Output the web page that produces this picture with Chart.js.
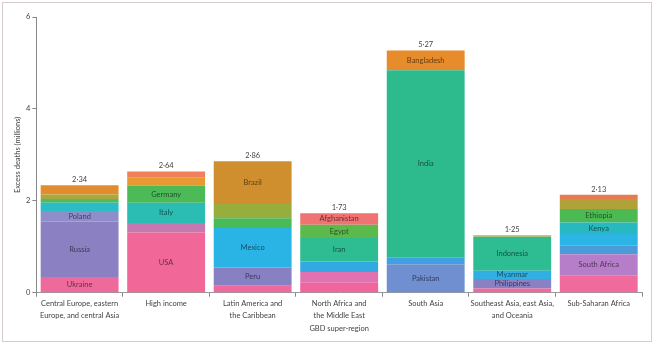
<!DOCTYPE html>
<html>
<head>
<meta charset="utf-8">
<script src="https://cdn.jsdelivr.net/npm/chart.js@4.4.0/dist/chart.umd.min.js"></script>
<style>
  html, body { margin: 0; padding: 0; background: #fff; }
  #frame { position: absolute; left: 2px; top: 2px; width: 648px; height: 338px; border: 1px solid #d8cbcf; }
  #wrap { position: absolute; left: 0; top: 0; width: 654px; height: 344px; }
</style>
</head>
<body>
<div id="frame"></div>
<div id="wrap"><canvas id="chart" width="654" height="344"></canvas></div>
<script>
// GBD super-regions (x axis)
var regions = [
  ["Central Europe, eastern", "Europe, and central Asia"],
  "High income",
  ["Latin America and", "the Caribbean"],
  ["North Africa and", "the Middle East"],
  "South Asia",
  ["Southeast Asia, east Asia,", "and Oceania"],
  "Sub-Saharan Africa"
];

// total excess deaths per region (millions) and the printed label
var totals = [2.34, 2.64, 2.86, 1.73, 5.27, 1.25, 2.13];
var totalLabels = ["2·34", "2·64", "2·86", "1·73", "5·27", "1·25", "2·13"];

// country segments, bottom to top (millions)
var centralEurope = [0.34, 1.21, 0.23, 0.18, 0.08, 0.10, 0.20];
var highIncome = [1.31, 0.21, 0.44, 0.37, 0.17, 0.14];
var latinAmerica = [0.15, 0.40, 0.86, 0.21, 0.31, 0.93];
var northAfrica = [0.22, 0.23, 0.23, 0.51, 0.29, 0.25];
var southAsia = [0.62, 0.15, 4.07, 0.43];
var southeastAsia = [0.09, 0.21, 0.18, 0.74, 0.03];
var subSaharan = [0.37, 0.47, 0.18, 0.26, 0.25, 0.29, 0.22, 0.09];

// names printed on the segments ("" = unlabelled)
var centralEuropeNames = ["Ukraine", "Russia", "Poland", "", "", "", ""];
var highIncomeNames = ["USA", "", "Italy", "Germany", "", ""];
var latinAmericaNames = ["", "Peru", "Mexico", "", "", "Brazil"];
var northAfricaNames = ["", "", "", "Iran", "Egypt", "Afghanistan"];
var southAsiaNames = ["Pakistan", "", "India", "Bangladesh"];
var southeastAsiaNames = ["", "Philippines", "Myanmar", "Indonesia", ""];
var subSaharanNames = ["", "South Africa", "", "", "Kenya", "Ethiopia", "", ""];

var segments = [centralEurope, highIncome, latinAmerica, northAfrica, southAsia, southeastAsia, subSaharan];
var segmentNames = [centralEuropeNames, highIncomeNames, latinAmericaNames, northAfricaNames, southAsiaNames, southeastAsiaNames, subSaharanNames];

// segment colours, per region, bottom to top
var segmentColors = [
  ["#ee6a9c", "#8a80c2", "#8e8ecb", "#2bbcc6", "#4fbb62", "#a9a83a", "#e28c2c"],
  ["#f06798", "#c678b0", "#2bbcb4", "#4dba58", "#e89a32", "#f07f5c"],
  ["#ee6a9c", "#8781c4", "#2ab4e6", "#48ba56", "#97ad3c", "#cf8f2e"],
  ["#f0659c", "#e072b2", "#33a9e2", "#2ebc92", "#5cba4c", "#f07272"],
  ["#6f8fd0", "#3fa1e2", "#2dbb8e", "#e88b2a"],
  ["#ee6a9c", "#8a80c4", "#30b0e2", "#2ebc92", "#c9ae42"],
  ["#f06a9c", "#b67ec8", "#4b9bd8", "#2bb4e4", "#27b9bf", "#4cba52", "#b0a138", "#e87a52"]
];

// one dataset per stack layer, filled from the region arrays
var layerCount = 0;
for (var i = 0; i < segments.length; i++) {
  if (segments[i].length > layerCount) layerCount = segments[i].length;
}

var datasets = [];
for (var layer = 0; layer < layerCount; layer++) {
  var values = [];
  var colors = [];
  for (var j = 0; j < segments.length; j++) {
    values.push(layer < segments[j].length ? segments[j][layer] : null);
    colors.push(layer < segmentColors[j].length ? segmentColors[j][layer] : "rgba(0,0,0,0)");
  }
  datasets.push({
    label: "layer " + (layer + 1),
    data: values,
    backgroundColor: colors,
    borderWidth: 0,
    barPercentage: 0.9,
    categoryPercentage: 1.0
  });
}

var fontFamily = "Lato, 'Liberation Sans', sans-serif";

// draws country names inside segments and totals above the bars
var labelPlugin = {
  id: "barLabels",
  afterDatasetsDraw: function (chart) {
    var ctx = chart.ctx;
    ctx.save();
    ctx.textAlign = "center";
    ctx.textBaseline = "middle";
    ctx.font = "7.5px " + fontFamily;
    for (var i = 0; i < chart.data.datasets.length; i++) {
      var meta = chart.getDatasetMeta(i);
      for (var j = 0; j < meta.data.length; j++) {
        var name = segmentNames[j][i];
        if (!name) continue;
        var bar = meta.data[j];
        ctx.fillStyle = "rgba(0,0,0,0.58)";
        ctx.fillText(name, bar.x, (bar.y + bar.base) / 2);
      }
    }
    ctx.fillStyle = "#444";
    ctx.textBaseline = "bottom";
    for (var k = 0; k < totals.length; k++) {
      var x = chart.scales.x.getPixelForValue(k);
      var y = chart.scales.y.getPixelForValue(totals[k]);
      ctx.fillText(totalLabels[k], x, y - 2);
    }
    ctx.restore();
  }
};

var ctx = document.getElementById("chart").getContext("2d");
var chart = new Chart(ctx, {
  type: "bar",
  data: {
    labels: regions,
    datasets: datasets
  },
  options: {
    responsive: false,
    animation: false,
    layout: {
      padding: { left: 13, right: 12, top: 17, bottom: 11 }
    },
    plugins: {
      legend: { display: false },
      tooltip: { enabled: false }
    },
    scales: {
      x: {
        stacked: true,
        grid: {
          offset: true,
          drawOnChartArea: false,
          tickLength: 4,
          color: "#888"
        },
        border: { color: "#999", width: 1 },
        ticks: {
          color: "#444",
          font: { family: fontFamily, size: 7.5, lineHeight: 1.55 },
          maxRotation: 0,
          autoSkip: false,
          padding: 1
        },
        title: {
          display: true,
          text: "GBD super-region",
          color: "#444",
          font: { family: fontFamily, size: 7.5 },
          padding: { top: 2, bottom: 0 }
        }
      },
      y: {
        stacked: true,
        min: 0,
        max: 6,
        grid: {
          drawOnChartArea: false,
          tickLength: 4,
          color: "#888"
        },
        border: { color: "#888", width: 1 },
        ticks: {
          stepSize: 2,
          color: "#444",
          font: { family: fontFamily, size: 7.5 },
          padding: 2
        },
        title: {
          display: true,
          text: "Excess deaths (millions)",
          color: "#444",
          font: { family: fontFamily, size: 7.5 },
          padding: { top: 0, bottom: 2 }
        }
      }
    }
  },
  plugins: [labelPlugin]
});
</script>
</body>
</html>
